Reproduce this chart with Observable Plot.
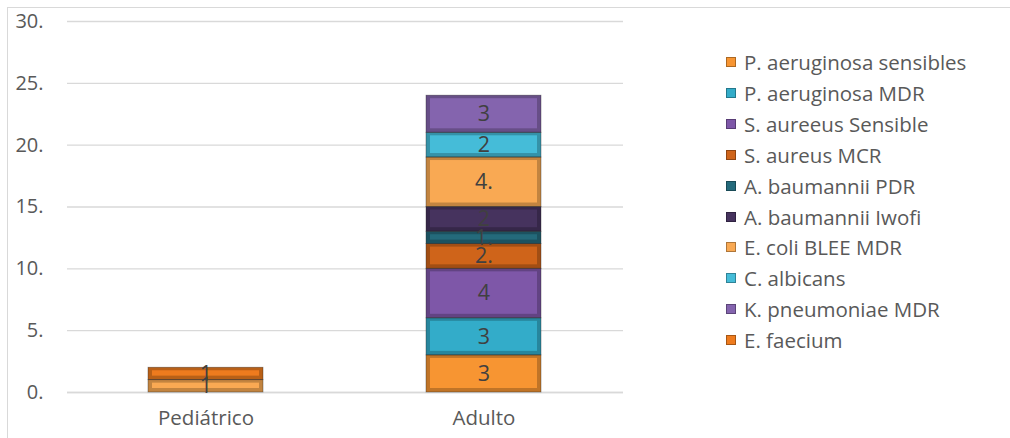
<!DOCTYPE html>
<html>
<head>
<meta charset="utf-8">
<script src="https://cdn.jsdelivr.net/npm/d3@7"></script>
<script src="https://cdn.jsdelivr.net/npm/@observablehq/plot@0.6"></script>
<style>
  html, body { margin: 0; padding: 0; background: #fff; }
  #wrap { position: relative; width: 1010px; height: 438px; overflow: hidden; font-family: "Open Sans", Lato, sans-serif; }
  #frame { position: absolute; left: 7px; top: 7px; width: 1100px; height: 500px; border: 1.5px solid #d9d9d9; box-sizing: border-box; }
  #chart { position: absolute; left: 0; top: 0; }
  .lg { position: absolute; left: 0; top: 0; }
  .lg-item { position: absolute; height: 26px; line-height: 26px; font-size: 20.5px; color: #595959; white-space: nowrap; }
  .lg-sw { position: absolute; width: 10px; height: 10px; box-sizing: border-box; }
</style>
</head>
<body>
<div id="wrap">
  <div id="frame"></div>
  <div id="chart"></div>
  <div id="legend" class="lg"></div>
</div>
<script>
// ---- data ----
const categories = ["Pediátrico", "Adulto"];
// stacking order, bottom to top (also legend order, top to bottom)
const series = [
  "P. aeruginosa sensibles",
  "P. aeruginosa MDR",
  "S. aureeus Sensible",
  "S. aureus MCR",
  "A. baumannii PDR",
  "A. baumannii Iwofi",
  "E. coli BLEE MDR",
  "C. albicans",
  "K. pneumoniae MDR",
  "E. faecium"
];
const pediatricoValues = [0, 0, 0, 0, 0, 0, 1, 0, 0, 1];
const adultoValues     = [3, 3, 4, 2, 1, 2, 4, 2, 3, 0];
const pediatricoLabels = ["", "", "", "", "", "", "1", "", "", "1"];
const adultoLabels     = ["3", "3", "4", "2.", "1.", "2", "4.", "2", "3", ""];
const seriesColors = [
  "#F79532", "#33ACC9", "#7E57A8", "#CF641A", "#246A7B",
  "#46335E", "#F9A953", "#45BCD8", "#8464AE", "#EE7B1E"
];
const yTicks = [0, 5, 10, 15, 20, 25, 30];
const yTickLabels = ["0.", "5.", "10.", "15.", "20.", "25.", "30."];

// ---- table ----
const rows = [];
const valuesByCat = [pediatricoValues, adultoValues];
const labelsByCat = [pediatricoLabels, adultoLabels];
categories.forEach((c, ci) => {
  series.forEach((s, si) => {
    rows.push({category: c, series: s, value: valuesByCat[ci][si], label: labelsByCat[ci][si]});
  });
});
const nonZero = rows.filter(d => d.value > 0);

const W = 720;
const stack = (extra) => Plot.stackY({x: "category", y: "value", z: "series", ...extra});
const chart = Plot.plot({
  width: W,
  height: 438,
  marginTop: 21,
  marginBottom: 46,
  marginLeft: 67,
  marginRight: 97,
  style: {fontFamily: "'Open Sans', Lato, sans-serif", color: "#595959", background: "transparent"},
  x: {domain: categories, paddingInner: 0.586, paddingOuter: 0.293, label: null},
  y: {domain: [0, 30], label: null},
  color: {domain: series, range: seriesColors},
  marks: [
    Plot.gridY(yTicks, {stroke: "#d9d9d9", strokeOpacity: 1, strokeWidth: 1.4}),
    Plot.ruleY([0], {stroke: "#d9d9d9", strokeWidth: 1.6}),
    Plot.axisY({ticks: yTicks, tickFormat: (d) => yTickLabels[yTicks.indexOf(d)], tickSize: 0, tickPadding: 24, fontSize: 20}),
    Plot.axisX({tickSize: 0, tickPadding: 18, fontSize: 20.5}),
    // bar segments: darker bevel edge, then main face
    Plot.rectY(nonZero, stack({fill: "series"})),
    Plot.rectY(nonZero, stack({fill: "black", fillOpacity: 0.22, stroke: "#222", strokeOpacity: 0.45, strokeWidth: 0.8})),
    Plot.rectY(nonZero, stack({fill: "series", insetLeft: 4, insetRight: 4, insetTop: 3, insetBottom: 4})),
    // labels
    Plot.text(nonZero, stack({text: "label", fill: "#404040", fontSize: 21.5}))
  ]
});
document.getElementById("chart").appendChild(chart);

// ---- legend ----
const legend = document.getElementById("legend");
series.forEach((s, i) => {
  const cy = 62 + i * 30.9;
  const sw = document.createElement("div");
  sw.className = "lg-sw";
  sw.style.left = "726px";
  sw.style.top = (cy - 5) + "px";
  sw.style.background = seriesColors[i];
  sw.style.border = "1px solid rgba(0,0,0,0.3)";
  legend.appendChild(sw);
  const t = document.createElement("div");
  t.className = "lg-item";
  t.style.left = "744px";
  t.style.top = (cy - 13) + "px";
  t.textContent = s;
  legend.appendChild(t);
});
</script>
</body>
</html>
